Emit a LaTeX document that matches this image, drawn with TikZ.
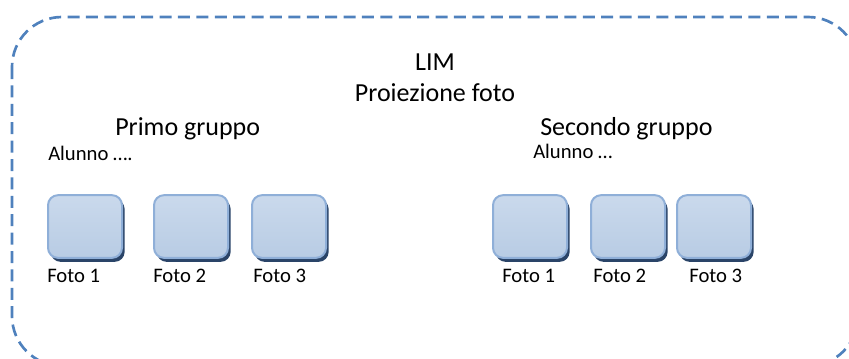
\documentclass[tikz,border=0pt]{standalone}
\usepackage{fontspec}
\setmainfont{Carlito}
\usepackage{tikz}
\usepackage{xcolor}
\usetikzlibrary{positioning,shadows}
\definecolor{limDash}{HTML}{4F81BD}
\definecolor{fotoTop}{HTML}{CAD9EC}
\definecolor{fotoBottom}{HTML}{B8CCE4}
\definecolor{fotoRim}{HTML}{8FAFD8}
\definecolor{fotoShadow}{HTML}{2A4468}

\begin{document}
\begin{tikzpicture}[x=0.75pt,y=-0.75pt,
    big/.style={inner sep=0pt,anchor=base west,font=\fontsize{19.5}{23}\selectfont},
    small/.style={inner sep=0pt,font=\fontsize{15.5}{18}\selectfont},
    foto/.style={draw=fotoRim,line width=1.5pt,rounded corners=7.5pt,
                 top color=fotoTop,bottom color=fotoBottom,
                 minimum width=55.5pt,minimum height=47pt,inner sep=0pt,
                 drop shadow={shadow xshift=2pt,shadow yshift=-3pt,
                              fill=fotoShadow,opacity=1}}]
    \useasboundingbox (0,0) rectangle (849,358);
    % cornice tratteggiata, tagliata a destra e in basso
    \draw[limDash,line width=2pt,dash pattern=on 9pt off 4.8pt,
          rounded corners=37.5pt] (12,17) rectangle (858,366);
    % titoli
    \node[big,anchor=base] (lim) at (435,70) {LIM};
    \node[big,anchor=base] (proi) at (435,101) {Proiezione foto};
    \node[big] (g1) at (115,135) {Primo gruppo};
    \node[small,anchor=base west] (a1) at (48,160) {Alunno ….};
    \node[big] (g2) at (540,135) {Secondo gruppo};
    \node[small,anchor=base west] (a2) at (533,158) {Alunno …};
    % primo gruppo
    \node[foto] (p1) at (85,226.5) {};
    \node[foto,right=22.5pt of p1] (p2) {};
    \node[foto,right=16.5pt of p2] (p3) {};
    % secondo gruppo
    \node[foto] (s1) at (530,226.5) {};
    \node[foto,right=16.5pt of s1] (s2) {};
    \node[foto,right=7.5pt of s2] (s3) {};
    % didascalie
    \node[small,below=18pt of p1.south west,anchor=base west] (cp1) {Foto 1};
    \node[small,below=18pt of p2.south west,anchor=base west] (cp2) {Foto 2};
    \node[small,below=18pt of p3.south west,anchor=base west,xshift=1.5pt] (cp3) {Foto 3};
    \node[small,below=18pt of s1.south west,anchor=base west,xshift=7.5pt] (cs1) {Foto 1};
    \node[small,below=18pt of s2.south west,anchor=base west,xshift=2.3pt] (cs2) {Foto 2};
    \node[small,below=18pt of s3.south west,anchor=base west,xshift=9.8pt] (cs3) {Foto 3};
  \end{tikzpicture}
\end{document}
